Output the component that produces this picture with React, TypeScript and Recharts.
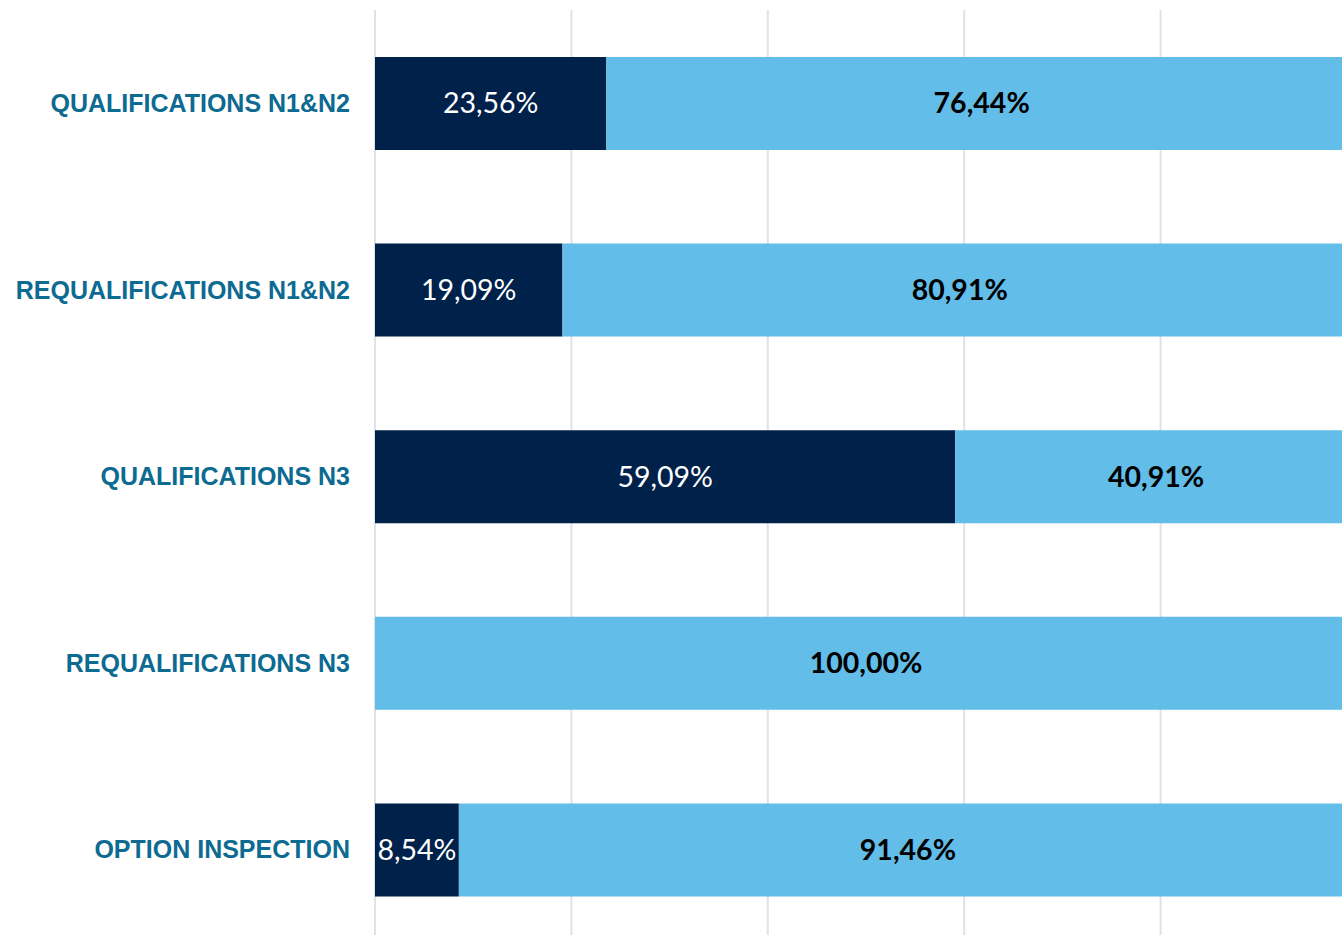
import React from 'react';
import { BarChart, Bar, XAxis, YAxis, CartesianGrid, LabelList } from 'recharts';

const categories = [
  'QUALIFICATIONS N1&N2',
  'REQUALIFICATIONS N1&N2',
  'QUALIFICATIONS N3',
  'REQUALIFICATIONS N3',
  'OPTION INSPECTION',
];
const darkValues = [23.56, 19.09, 59.09, 0, 8.54];
const lightValues = [76.44, 80.91, 40.91, 100, 91.46];
const xTicks = [0, 20, 40, 60, 80, 100];

const data = categories.map((name, i) => ({ name, dark: darkValues[i], light: lightValues[i] }));

const fmt = (v: number) => v.toFixed(2).replace('.', ',') + '%';

const DarkLabel = (props: any) => {
  const { x, y, width, height, value } = props;
  if (!value) return null;
  return (
    <text x={x + width / 2} y={y + height / 2} dy="0.35em" textAnchor="middle" fill="#ffffff"
      fontFamily="Lato, 'Open Sans', sans-serif" fontSize={28.5}>
      {fmt(value)}
    </text>
  );
};

const LightLabel = (props: any) => {
  const { x, y, width, height, value } = props;
  if (!value) return null;
  return (
    <text x={x + width / 2} y={y + height / 2} dy="0.35em" textAnchor="middle" fill="#000000"
      fontFamily="Lato, 'Open Sans', sans-serif" fontWeight="bold" fontSize={28.5}>
      {fmt(value)}
    </text>
  );
};

const CatTick = (props: any) => {
  const { x, y, payload } = props;
  return (
    <text x={x} y={y} dy="0.35em" textAnchor="end" fill="#0d6a91"
      fontFamily="'Liberation Sans', Arial, sans-serif" fontWeight="bold" fontSize={25}>
      {payload.value}
    </text>
  );
};

export default function App() {
  return (
    <div style={{ position: 'absolute', left: 0, top: 0, width: 1342, height: 935, overflow: 'hidden', background: '#fff' }}>
      <BarChart width={1360} height={945} data={data} layout="vertical"
        margin={{ top: 10, right: 3, bottom: 2, left: 0 }}>
        <CartesianGrid horizontal={false} stroke="#dde3ea" strokeWidth={2} />
        <XAxis type="number" domain={[0, 100]} ticks={xTicks} hide />
        <YAxis type="category" dataKey="name" width={375} axisLine={false} tickLine={false}
          tickSize={0} tickMargin={25} tick={<CatTick />} interval={0} />
        <Bar dataKey="dark" stackId="a" fill="#00214a" barSize={93} isAnimationActive={false}>
          <LabelList dataKey="dark" content={<DarkLabel />} />
        </Bar>
        <Bar dataKey="light" stackId="a" fill="#62bde8" barSize={93} isAnimationActive={false}>
          <LabelList dataKey="light" content={<LightLabel />} />
        </Bar>
      </BarChart>
    </div>
  );
}
